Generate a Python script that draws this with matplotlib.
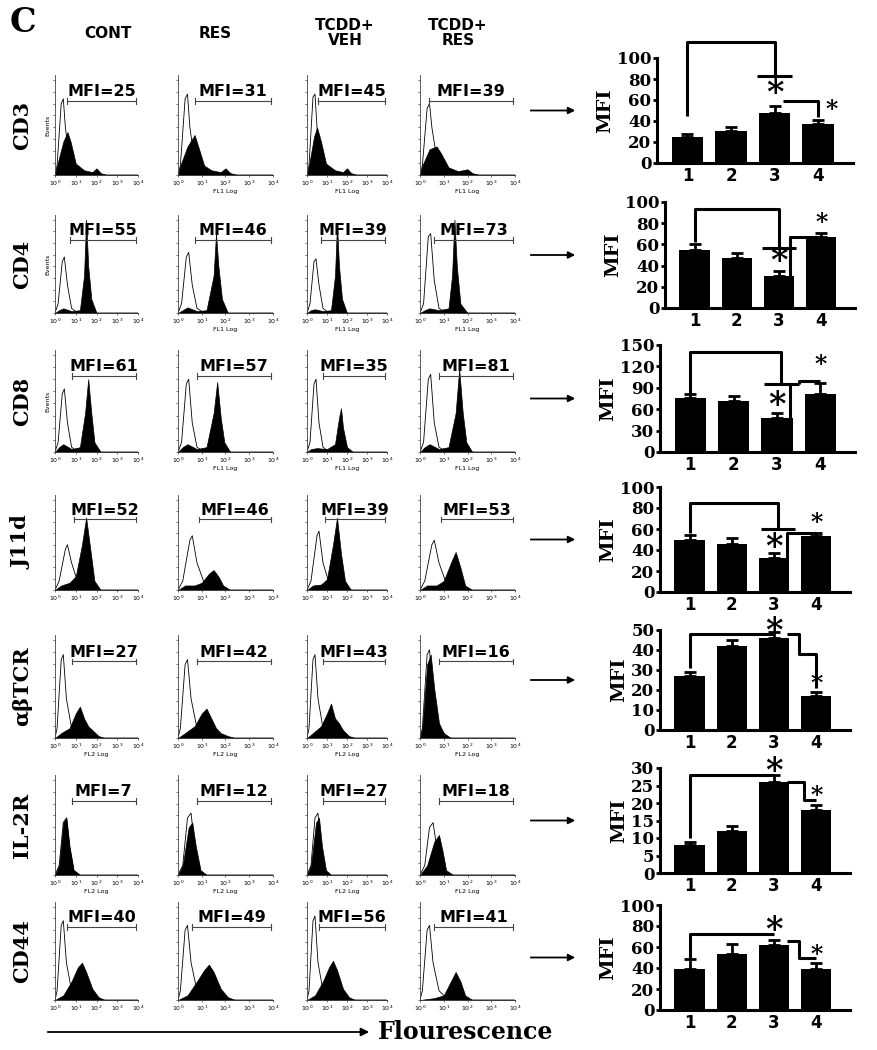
import matplotlib
matplotlib.use("Agg")
import matplotlib.pyplot as plt
import numpy as np

W, H = 878, 1050
fig = plt.figure(figsize=(W / 100, H / 100), dpi=100)

def px_axes(x0, y0, x1, y1):
    return fig.add_axes([x0 / W, 1 - y1 / H, (x1 - x0) / W, (y1 - y0) / H])

# ---------------- data ----------------
markers = ["CD3", "CD4", "CD8", "J11d", "αβTCR", "IL-2R", "CD44"]
groups = ["CONT", "RES", "TCDD+\nVEH", "TCDD+\nRES"]
mfi_labels = [
    [25, 31, 45, 39],
    [55, 46, 39, 73],
    [61, 57, 35, 81],
    [52, 46, 39, 53],
    [27, 42, 43, 16],
    [7, 12, 27, 18],
    [40, 49, 56, 41],
]
bar_means = [
    [25, 30, 48, 37],
    [55, 47, 30, 67],
    [75, 72, 47, 82],
    [50, 46, 32, 53],
    [27, 42, 46, 17],
    [8, 12, 26, 18],
    [39, 53, 62, 39],
]
bar_err = [
    [3, 4, 6, 4],
    [5, 5, 5, 4],
    [6, 7, 8, 15],
    [4, 5, 5, 3],
    [2, 3, 3, 2],
    [1, 1.5, 2, 1.5],
    [10, 10, 5, 6],
]
bar_ymax = [100, 100, 150, 100, 50, 30, 100]
bar_ystep = [20, 20, 30, 20, 10, 5, 20]
channel = ["FL1 Log"] * 4 + ["FL2 Log"] * 3

# histogram keypoints (log10 fluorescence, fraction of full scale)
open_curves = [
    [[(0, 0), (0.1, .1), (0.3, .75), (0.4, .8), (0.5, .5), (0.7, .15), (1.0, .03), (1.5, 0), (4, 0)],
     [(0, 0), (0.1, .1), (0.3, .8), (0.4, .85), (0.5, .5), (0.7, .15), (1.0, .03), (1.5, 0), (4, 0)],
     [(0, 0), (0.1, .1), (0.3, .82), (0.4, .85), (0.5, .5), (0.7, .12), (1.0, .02), (1.5, 0), (4, 0)],
     [(0, 0), (0.1, .1), (0.3, .7), (0.4, .75), (0.5, .5), (0.7, .18), (1.0, .04), (1.5, 0), (4, 0)]],
    [[(0, 0), (0.15, .1), (0.35, .55), (0.45, .6), (0.6, .3), (0.8, .05), (1.1, 0), (4, 0)],
     [(0, 0), (0.15, .1), (0.35, .6), (0.45, .65), (0.6, .3), (0.8, .05), (1.1, 0), (4, 0)],
     [(0, 0), (0.15, .1), (0.35, .55), (0.45, .58), (0.6, .3), (0.8, .05), (1.1, 0), (4, 0)],
     [(0, 0), (0.15, .1), (0.35, .82), (0.45, .85), (0.6, .35), (0.8, .05), (1.1, 0), (4, 0)]],
    [[(0, 0), (0.15, .1), (0.35, .6), (0.45, .65), (0.6, .3), (0.8, .05), (1.1, 0), (4, 0)],
     [(0, 0), (0.15, .1), (0.35, .7), (0.45, .75), (0.6, .3), (0.8, .05), (1.1, 0), (4, 0)],
     [(0, 0), (0.15, .1), (0.35, .7), (0.45, .75), (0.6, .3), (0.8, .05), (1.1, 0), (4, 0)],
     [(0, 0), (0.15, .1), (0.35, .75), (0.45, .8), (0.6, .3), (0.8, .05), (1.1, 0), (4, 0)]],
    [[(0, 0), (0.2, .1), (0.5, .45), (0.6, .5), (0.8, .3), (1.1, .08), (1.5, 0), (4, 0)],
     [(0, 0), (0.2, .1), (0.5, .55), (0.6, .6), (0.8, .3), (1.1, .08), (1.5, 0), (4, 0)],
     [(0, 0), (0.2, .1), (0.5, .6), (0.6, .65), (0.8, .3), (1.1, .08), (1.5, 0), (4, 0)],
     [(0, 0), (0.2, .1), (0.5, .5), (0.6, .55), (0.8, .3), (1.1, .08), (1.5, 0), (4, 0)]],
    [[(0, 0), (0.1, .1), (0.3, .8), (0.4, .85), (0.55, .4), (0.8, .1), (1.2, 0), (4, 0)],
     [(0, 0), (0.1, .1), (0.3, .75), (0.4, .8), (0.55, .4), (0.8, .1), (1.2, 0), (4, 0)],
     [(0, 0), (0.1, .1), (0.3, .8), (0.4, .85), (0.55, .4), (0.8, .1), (1.2, 0), (4, 0)],
     [(0, 0), (0.1, .1), (0.3, .85), (0.4, .9), (0.55, .45), (0.8, .1), (1.2, 0), (4, 0)]],
    [[(0, 0), (0.2, .1), (0.4, .55), (0.55, .6), (0.7, .3), (0.9, .05), (1.2, 0), (4, 0)],
     [(0, 0), (0.2, .1), (0.4, .6), (0.55, .65), (0.7, .3), (0.9, .05), (1.2, 0), (4, 0)],
     [(0, 0), (0.2, .1), (0.4, .6), (0.55, .65), (0.7, .3), (0.9, .05), (1.2, 0), (4, 0)],
     [(0, 0), (0.2, .1), (0.4, .5), (0.55, .55), (0.7, .3), (0.9, .05), (1.2, 0), (4, 0)]],
    [[(0, 0), (0.1, .1), (0.3, .8), (0.4, .85), (0.55, .4), (0.8, .1), (1.2, 0), (4, 0)],
     [(0, 0), (0.1, .1), (0.3, .75), (0.4, .8), (0.55, .4), (0.8, .1), (1.2, 0), (4, 0)],
     [(0, 0), (0.1, .1), (0.3, .85), (0.4, .9), (0.55, .4), (0.8, .1), (1.2, 0), (4, 0)],
     [(0, 0), (0.1, .1), (0.3, .75), (0.4, .8), (0.55, .4), (0.8, .1), (1.2, 0), (4, 0)]],
]
filled_curves = [
    [[(0, 0), (0.1, .1), (0.4, .35), (0.6, .45), (0.75, .35), (1.0, .12), (1.4, .05), (1.8, .03), (2.0, .07), (2.2, .02), (2.5, 0), (4, 0)],
     [(0, 0), (0.1, .1), (0.4, .3), (0.7, .42), (0.85, .3), (1.1, .1), (1.4, .05), (1.8, .03), (2.0, .07), (2.2, .02), (2.5, 0), (4, 0)],
     [(0, 0), (0.1, .1), (0.35, .4), (0.5, .5), (0.7, .35), (0.95, .12), (1.4, .05), (1.8, .03), (2.0, .07), (2.2, .02), (2.5, 0), (4, 0)],
     [(0, 0), (0.1, .1), (0.4, .27), (0.7, .3), (0.9, .22), (1.2, .08), (1.6, .04), (2.0, .06), (2.2, .02), (2.5, 0), (4, 0)]],
    [[(0, 0), (0.2, .03), (0.4, .05), (0.8, .02), (1.2, .03), (1.4, .4), (1.5, 1.0), (1.6, .5), (1.75, .15), (2.0, 0), (4, 0)],
     [(0, 0), (0.2, .03), (0.4, .06), (0.8, .02), (1.2, .03), (1.5, .4), (1.6, .85), (1.7, .5), (1.85, .15), (2.1, 0), (4, 0)],
     [(0, 0), (0.2, .03), (0.4, .04), (0.8, .02), (1.2, .03), (1.4, .4), (1.5, .95), (1.6, .5), (1.75, .15), (2.0, 0), (4, 0)],
     [(0, 0), (0.2, .03), (0.4, .05), (0.8, .03), (1.2, .05), (1.35, .4), (1.45, 1.0), (1.55, .5), (1.7, .1), (2.0, 0), (4, 0)]],
    [[(0, 0), (0.2, .05), (0.4, .08), (0.8, .03), (1.2, .05), (1.45, .4), (1.6, .75), (1.75, .4), (1.9, .1), (2.2, 0), (4, 0)],
     [(0, 0), (0.2, .05), (0.4, .08), (0.8, .03), (1.2, .05), (1.5, .4), (1.65, .72), (1.8, .35), (1.95, .1), (2.2, 0), (4, 0)],
     [(0, 0), (0.2, .03), (0.5, .04), (1.0, .03), (1.4, .08), (1.6, .35), (1.7, .45), (1.8, .25), (2.0, .05), (2.3, 0), (4, 0)],
     [(0, 0), (0.2, .05), (0.4, .08), (0.8, .03), (1.2, .05), (1.5, .4), (1.65, .85), (1.8, .4), (1.95, .1), (2.2, 0), (4, 0)]],
    [[(0, 0), (0.3, .05), (0.7, .08), (1.0, .15), (1.3, .5), (1.5, .8), (1.7, .45), (1.9, .1), (2.2, 0), (4, 0)],
     [(0, 0), (0.3, .05), (0.7, .05), (1.0, .08), (1.3, .18), (1.5, .22), (1.7, .15), (1.9, .05), (2.2, 0), (4, 0)],
     [(0, 0), (0.3, .05), (0.7, .06), (1.0, .12), (1.3, .5), (1.5, .8), (1.7, .4), (1.9, .1), (2.2, 0), (4, 0)],
     [(0, 0), (0.3, .05), (0.7, .05), (1.0, .1), (1.3, .3), (1.5, .42), (1.7, .25), (1.9, .05), (2.2, 0), (4, 0)]],
    [[(0, 0), (0.3, .05), (0.7, .1), (1.0, .25), (1.2, .32), (1.4, .2), (1.6, .12), (1.8, .08), (2.1, .02), (2.4, 0), (4, 0)],
     [(0, 0), (0.3, .05), (0.7, .12), (1.0, .25), (1.2, .3), (1.4, .2), (1.6, .1), (1.8, .05), (2.1, .02), (2.4, 0), (4, 0)],
     [(0, 0), (0.3, .05), (0.7, .12), (1.0, .25), (1.2, .35), (1.4, .2), (1.6, .15), (1.8, .08), (2.1, .02), (2.4, 0), (4, 0)],
     [(0, 0), (0.1, .1), (0.3, .75), (0.45, .85), (0.6, .5), (0.8, .15), (1.0, .05), (1.3, 0), (4, 0)]],
    [[(0, 0), (0.2, .1), (0.4, .55), (0.55, .6), (0.7, .3), (0.9, .05), (1.2, 0), (4, 0)],
     [(0, 0), (0.2, .1), (0.45, .5), (0.6, .55), (0.75, .3), (0.95, .05), (1.2, 0), (4, 0)],
     [(0, 0), (0.2, .1), (0.45, .55), (0.6, .6), (0.75, .3), (0.95, .05), (1.2, 0), (4, 0)],
     [(0, 0), (0.3, .1), (0.6, .35), (0.8, .42), (0.95, .25), (1.1, .05), (1.4, 0), (4, 0)]],
    [[(0, 0), (0.4, .05), (0.8, .2), (1.1, .35), (1.3, .4), (1.5, .3), (1.8, .12), (2.1, .03), (2.4, 0), (4, 0)],
     [(0, 0), (0.4, .05), (0.8, .2), (1.1, .32), (1.3, .38), (1.5, .3), (1.8, .12), (2.1, .03), (2.4, 0), (4, 0)],
     [(0, 0), (0.4, .05), (0.8, .2), (1.1, .35), (1.3, .42), (1.5, .32), (1.8, .12), (2.1, .03), (2.4, 0), (4, 0)],
     [(0, 0), (0.6, .02), (1.0, .05), (1.3, .2), (1.5, .3), (1.7, .2), (1.9, .05), (2.2, 0), (4, 0)]],
]
gate_start = [
    [0.6, 0.7, 0.55, 0.4],
    [0.7, 0.7, 0.7, 0.6],
    [0.8, 0.8, 0.8, 0.8],
    [0.9, 0.9, 0.9, 0.9],
    [0.8, 0.8, 0.8, 0.8],
    [0.8, 0.8, 0.8, 0.8],
    [0.6, 0.6, 0.6, 0.6],
]

# bracket annotations per bar chart (data coordinates)
brackets = [
    [[(1, 45), (1, 115), (3, 115), (3, 83)], [(2.6, 83), (3.4, 83)], [(3.2, 59), (4, 59), (4, 44)]],
    [[(1, 62), (1, 93), (3, 93), (3, 57)], [(2.6, 57), (3.4, 57)], [(3.25, 12), (3.25, 67), (4, 67)]],
    [[(1, 82), (1, 140), (3.1, 140), (3.1, 95)], [(2.7, 95), (3.5, 95)], [(3.3, 20), (3.3, 95)], [(3.5, 95), (3.5, 100), (4, 100)]],
    [[(1, 56), (1, 85), (3.1, 85), (3.1, 60)], [(2.7, 60), (3.5, 60)], [(3.3, 10), (3.3, 56), (4, 56)]],
    [[(1, 31), (1, 48), (3, 48)], [(3.3, 48), (3.6, 48), (3.6, 38), (4, 38), (4, 21)]],
    [[(1, 10), (1, 28), (3, 28)], [(3.3, 26), (3.7, 26), (3.7, 21), (4, 21)]],
    [[(1, 48), (1, 72), (3, 72)], [(3.3, 66), (3.6, 66), (3.6, 50), (4, 50)]],
]
big_star = [(3, 66), (3, 44), (3, 65), (3, 42), (3, 49.5), (3, 29), (3, 76)]
small_star = [(4.3, 50), (4, 80), (4, 122), (4, 66), (4, 23), (4, 22), (4, 52)]

# ---------------- layout (pixels) ----------------
hist_cols = [(55, 138), (178, 273), (307, 387), (420, 515)]
hist_rows = [(75, 175), (215, 313), (350, 452), (495, 590), (635, 738), (775, 875), (902, 1000)]
bar_boxes = [(657, 58, 853, 163), (665, 202, 855, 308), (660, 345, 855, 452),
             (660, 487, 850, 592), (660, 630, 850, 730), (660, 768, 850, 873), (660, 905, 850, 1010)]
header_x = [108, 215, 345, 458]

fig.text(10 / W, 1 - 22 / H, "C", fontsize=24, fontweight="bold", family="DejaVu Serif", va="center")
for gx, g in zip(header_x, groups):
    fig.text(gx / W, 1 - 33 / H, g, fontsize=11, fontweight="bold", family="DejaVu Sans",
             ha="center", va="center", linespacing=1.05)

for r, m in enumerate(markers):
    y0, y1 = hist_rows[r]
    fig.text(22 / W, 1 - (y0 + y1) / 2 / H, m, rotation=90, fontsize=15, fontweight="bold",
             family="DejaVu Serif", ha="center", va="center")
    for c in range(4):
        x0, x1 = hist_cols[c]
        ax = px_axes(x0, y0, x1, y1)
        ox, oy = zip(*open_curves[r][c])
        fx, fy = zip(*filled_curves[r][c])
        ax.fill_between(fx, fy, color="black", lw=0.5)
        ax.plot(ox, oy, color="black", lw=0.6)
        gs = gate_start[r][c]
        ax.plot([gs, 3.9], [0.78, 0.78], color="#444444", lw=0.8)
        ax.plot([gs, gs], [0.75, 0.81], color="#444444", lw=0.8)
        ax.plot([3.9, 3.9], [0.75, 0.81], color="#444444", lw=0.8)
        ax.text((gs + 3.9) / 2, 0.8, f"MFI={mfi_labels[r][c]}", fontsize=11.5, fontweight="bold",
                ha="center", va="bottom", family="DejaVu Sans", clip_on=False)
        ax.set_xlim(0, 4)
        ax.set_ylim(0, 1.05)
        for s in ["top", "right"]:
            ax.spines[s].set_visible(False)
        for s in ["left", "bottom"]:
            ax.spines[s].set_linewidth(0.6)
            ax.spines[s].set_color("#444444")
        ax.set_xticks(range(5))
        ax.set_xticklabels([f"$10^{i}$" for i in range(5)], fontsize=4.5)
        ax.set_yticks(np.linspace(0, 1, 9))
        ax.set_yticklabels([])
        ax.tick_params(length=1.5, width=0.4, pad=1)
        if c == 0 and r in (0, 1, 2):
            ax.set_ylabel("Events", fontsize=4.5, labelpad=1)
        if r in (0, 1, 2) and c > 0 or r == 4 or r == 5:
            ax.set_xlabel(channel[r], fontsize=4.5, labelpad=1)

    # arrow to bar chart
    bx0, by0, bx1, by1 = bar_boxes[r]
    ay = 1 - (by0 + by1) / 2 / H
    fig.patches.append(matplotlib.patches.FancyArrowPatch(
        (528 / W, ay), (578 / W, ay), transform=fig.transFigure,
        arrowstyle="-|>", mutation_scale=10, lw=1.3, color="black"))

    bax = px_axes(bx0, by0, bx1, by1)
    xs = np.arange(1, 5)
    bax.bar(xs, bar_means[r], width=0.72, color="black",
            yerr=[np.zeros(4), bar_err[r]], capsize=4,
            error_kw=dict(lw=2, capthick=2, ecolor="black"))
    bax.set_xlim(0.3, 4.8)
    bax.set_ylim(0, bar_ymax[r])
    bax.set_yticks(np.arange(0, bar_ymax[r] + 1, bar_ystep[r]))
    bax.set_xticks(xs)
    bax.set_xticklabels([str(i) for i in xs], fontsize=12, fontweight="bold", family="DejaVu Sans")
    for t in bax.get_yticklabels():
        t.set_fontsize(12)
        t.set_fontweight("bold")
        t.set_family("DejaVu Serif")
    bax.tick_params(axis="both", length=3, width=2, pad=1)
    bax.tick_params(axis="x", length=0, pad=3)
    for s in ["top", "right"]:
        bax.spines[s].set_visible(False)
    for s in ["left", "bottom"]:
        bax.spines[s].set_linewidth(2.2)
    bax.set_ylabel("MFI", fontsize=14, fontweight="bold", family="DejaVu Serif", labelpad=2)
    for seg in brackets[r]:
        sx, sy = zip(*seg)
        bax.plot(sx, sy, color="black", lw=2.2, clip_on=False, solid_capstyle="butt")
    bax.text(*big_star[r], "*", fontsize=24, fontweight="bold", ha="center", va="center",
             family="DejaVu Serif", clip_on=False)
    bax.text(*small_star[r], "*", fontsize=17, fontweight="bold", ha="center", va="center",
             family="DejaVu Serif", clip_on=False)

# fluorescence arrow at bottom
fig.patches.append(matplotlib.patches.FancyArrowPatch(
    (45 / W, 1 - 1032 / H), (372 / W, 1 - 1032 / H), transform=fig.transFigure,
    arrowstyle="-|>", mutation_scale=12, lw=1.3, color="black"))
fig.text(378 / W, 1 - 1032 / H, "Flourescence", fontsize=17, fontweight="bold",
         family="DejaVu Serif", va="center")

fig.savefig("out.png", dpi=100)
